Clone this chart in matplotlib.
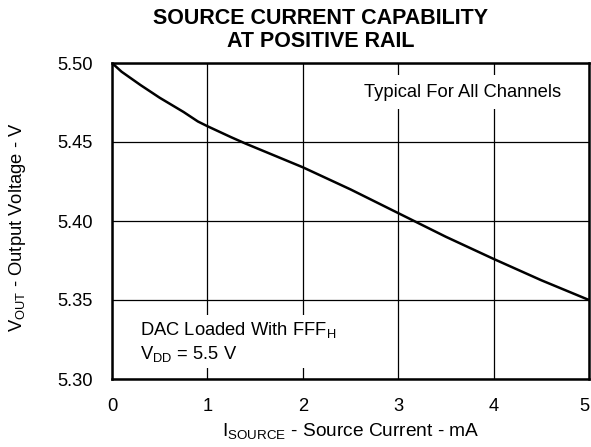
import matplotlib
matplotlib.use("Agg")
import matplotlib.pyplot as plt

plt.rcParams['font.family'] = ['Liberation Sans', 'DejaVu Sans']
plt.rcParams['mathtext.fontset'] = 'custom'
plt.rcParams['mathtext.rm'] = 'Liberation Sans'
plt.rcParams['mathtext.it'] = 'Liberation Sans'

# source current (mA) vs output voltage (V)
i_source = [0, 0.1, 0.3, 0.5, 0.75, 0.9, 1.0, 1.25, 1.4, 2.0, 2.5, 3.0, 3.5, 4.0, 4.5, 5.0]
v_out = [5.500, 5.4945, 5.486, 5.478, 5.469, 5.463, 5.460, 5.453, 5.449,
         5.434, 5.420, 5.405, 5.390, 5.376, 5.3625, 5.350]

x_ticks = [0, 1, 2, 3, 4, 5]
y_ticks = [5.30, 5.35, 5.40, 5.45, 5.50]

fig = plt.figure(figsize=(5.91, 4.47), dpi=100)
ax = fig.add_axes([112 / 591, 1 - 379 / 447, 477 / 591, 316 / 447])

ax.plot(i_source, v_out, color='black', lw=1.8, zorder=3)

ax.set_xlim(0, 5)
ax.set_ylim(5.30, 5.50)
ax.set_xticks(x_ticks)
ax.set_yticks(y_ticks)
ax.set_yticklabels([f'{v:.2f}' for v in y_ticks])
ax.tick_params(length=0, labelsize=13.2)
ax.tick_params(axis='x', pad=14)
ax.tick_params(axis='y', pad=14)
# keep the last x label inside the figure
ax.get_xticklabels()[-1].set_ha('right')
ax.grid(True, color='black', lw=0.9)
for s in ax.spines.values():
    s.set_linewidth(1.8)

ax.set_xlabel(r'I$_{\mathrm{SOURCE}}$ - Source Current - mA', fontsize=13.8, labelpad=4)
ax.set_ylabel(r'V$_{\mathrm{OUT}}$ - Output Voltage - V', fontsize=13.2)
ax.yaxis.set_label_coords(-0.176, 0.48)

fig.text(321 / 591, 1 - 8 / 447, 'SOURCE CURRENT CAPABILITY\nAT POSITIVE RAIL',
         ha='center', va='top', fontsize=15.5, fontweight='bold', linespacing=1.1)

ax.text(3.67, 5.4816, 'Typical For All Channels', ha='center', va='center',
        fontsize=13.2, bbox=dict(facecolor='white', edgecolor='none', pad=6), zorder=2)
ax.text(0.29, 5.3235,
        'DAC Loaded With FFF$_{\\mathrm{H}}$\nV$_{\\mathrm{DD}}$ = 5.5 V',
        ha='left', va='center', fontsize=13.2, linespacing=1.3,
        bbox=dict(facecolor='white', edgecolor='none', pad=3), zorder=2)

fig.savefig('out.png', dpi=100)
